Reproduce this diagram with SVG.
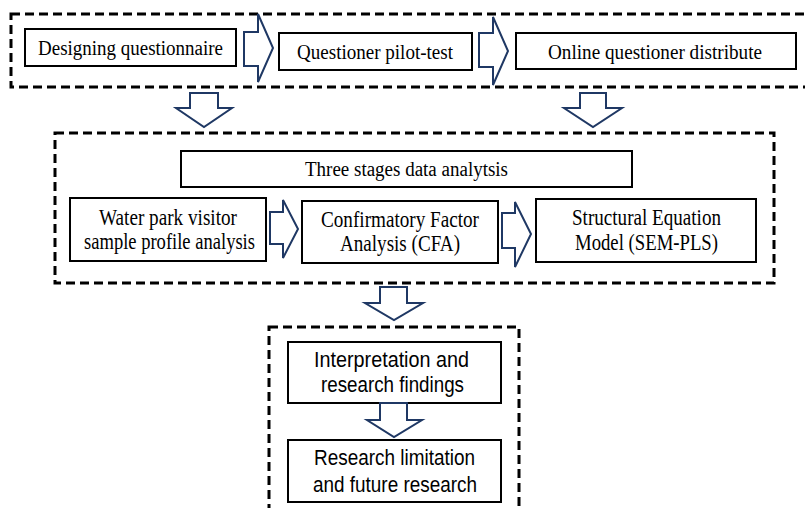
<svg xmlns="http://www.w3.org/2000/svg" width="805" height="508" viewBox="0 0 805 508">
<style>
.dash{fill:none;stroke:#000;stroke-width:3;stroke-dasharray:9 5}
.box{fill:#fff;stroke:#000;stroke-width:2}
.arr{fill:#fff;stroke:#1f3864;stroke-width:2;stroke-linejoin:miter}
.s{font-family:"Liberation Serif","Times New Roman",serif;fill:#000;text-anchor:start}
.a{font-family:"Liberation Sans",Arial,sans-serif;fill:#000}
</style>
<rect width="805" height="508" fill="#fff"/>
<g id="groups">
<rect class="dash" x="11" y="14" width="805" height="73"/>
<rect class="dash" x="55" y="133" width="719" height="150"/>
<rect class="dash" x="269" y="327" width="250" height="200"/>
</g>
<g id="connectors">
<polygon class="arr" points="244,32 258,32 258,14 273,48 258,82 258,66 244,66"/>
<polygon class="arr" points="479,33 493,33 493,17 508,51 493,85 493,67 479,67"/>
<polygon class="arr" points="190,93 218,93 218,108 232,108 204,127 176,108 190,108"/>
<polygon class="arr" points="580,93 606,93 606,108 622,108 593,127 564,108 580,108"/>
<polygon class="arr" points="270,212 283,212 283,200 298,229 283,258 283,244 270,244"/>
<polygon class="arr" points="502,213 515,213 515,202 531,234 515,267 515,248 502,248"/>
<polygon class="arr" points="380,287 407,287 407,303 423,303 394,320 365,303 380,303"/>
</g>
<g id="n1"><rect class="box" x="25" y="29" width="211" height="37"/><text class="s" x="38" y="55" font-size="20" textLength="185" lengthAdjust="spacingAndGlyphs">Designing questionnaire</text></g>
<g id="n2"><rect class="box" x="279" y="33" width="193" height="37"/><text class="s" x="297" y="59" font-size="20" textLength="156" lengthAdjust="spacingAndGlyphs">Questioner pilot-test</text></g>
<g id="n3"><rect class="box" x="516" y="33" width="280" height="36"/><text class="s" x="548" y="59" font-size="20" textLength="214" lengthAdjust="spacingAndGlyphs">Online questioner distribute</text></g>
<g id="n4"><rect class="box" x="181" y="151" width="451" height="36"/><text class="s" x="305" y="176" font-size="20" textLength="203" lengthAdjust="spacingAndGlyphs">Three stages data analytsis</text></g>
<g id="n5"><rect class="box" x="70" y="198" width="196" height="63"/><text class="s" x="99" y="225" font-size="23" textLength="138" lengthAdjust="spacingAndGlyphs">Water park visitor</text><text class="s" x="84" y="249" font-size="23" textLength="171" lengthAdjust="spacingAndGlyphs">sample profile analysis</text></g>
<g id="n6"><rect class="box" x="302" y="201" width="196" height="62"/><text class="s" x="321" y="227" font-size="23" textLength="158" lengthAdjust="spacingAndGlyphs">Confirmatory Factor</text><text class="s" x="340" y="251" font-size="23" textLength="120" lengthAdjust="spacingAndGlyphs">Analysis (CFA)</text></g>
<g id="n7"><rect class="box" x="536" y="199" width="220" height="63"/><text class="s" x="572" y="225" font-size="23" textLength="149" lengthAdjust="spacingAndGlyphs">Structural Equation</text><text class="s" x="575" y="250" font-size="23" textLength="143" lengthAdjust="spacingAndGlyphs">Model (SEM-PLS)</text></g>
<g id="n8"><rect class="box" x="288" y="342" width="213" height="61"/><text class="a" x="314" y="367" font-size="22" textLength="155" lengthAdjust="spacingAndGlyphs">Interpretation and</text><text class="a" x="321" y="392" font-size="22" textLength="143" lengthAdjust="spacingAndGlyphs">research findings</text></g>
<g id="c8"><polygon class="arr" points="380,403 407,403 407,420 422,420 394,437 367,420 380,420"/></g>
<g id="n9"><rect class="box" x="288" y="440" width="213" height="62"/><text class="a" x="314" y="465" font-size="22" textLength="161" lengthAdjust="spacingAndGlyphs">Research limitation</text><text class="a" x="313" y="492" font-size="22" textLength="164" lengthAdjust="spacingAndGlyphs">and future research</text></g>
</svg>
